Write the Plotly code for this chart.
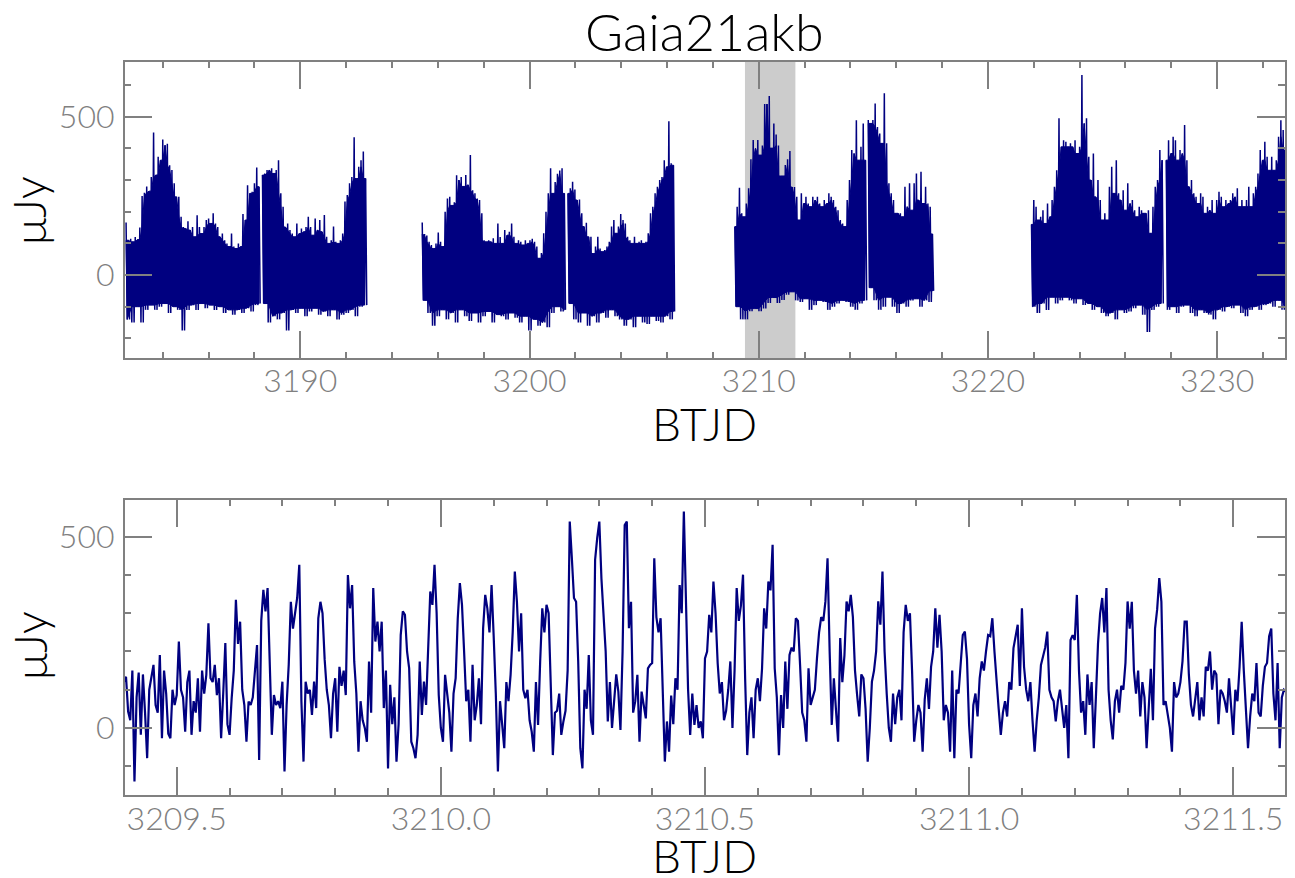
import plotly.graph_objects as go

TITLE = "Gaia21akb"
X_LABEL = "BTJD"
Y_LABEL = "μJy"

# ---- full light curve (top panel) -------------------------------------------
# each segment: start BTJD, upper-envelope flux every 0.1 d, lower-envelope flux every 0.2 d
ENV_STEP = 0.1

SEG_A_START = 3182.40
SEG_A_HIGH = [166, 110, 115, 105, 120, 112,
              150, 250, 260, 280, 265, 310, 450,
              316, 374, 363, 428, 410, 415, 347, 332, 290, 247, 247, 184, 152,
              147, 170, 142, 152, 121, 189, 152, 131, 152, 174,
              179, 163, 195, 163, 152, 121, 131, 110, 100, 90,
              131, 90, 84, 100, 90, 193, 174, 284, 258, 263,
              290, 340, 279]
SEG_A_LOW = [-140, -150, -100, -150, -110, -95, -110, -100, -90, -120,
             -100, -110, -175, -110, -95, -110, -90, -105, -95, -110,
             -100, -120, -110, -125, -110, -120, -105, -115, -95, -90]

SEG_B_START = 3188.35
SEG_B_HIGH = [316, 321, 332, 332, 337, 321, 332, 363, 258, 216,
              152, 163, 142, 131, 121, 163, 131, 147, 137, 152,
              184, 152, 126, 179, 142, 174, 137, 190, 121, 100,
              110, 153, 105, 100, 110, 131, 232, 253, 290, 310,
              435, 305, 342, 363, 390, 305]
SEG_B_LOW = [-90, -150, -130, -140, -120, -175, -110, -120, -105, -130,
             -115, -105, -125, -115, -130, -110, -140, -125, -120, -110,
             -130, -100, -95]

SEG_C_START = 3195.32
SEG_C_HIGH = [166, 130, 125, 105, 95, 84, 100, 134, 105, 90,
              200, 242, 247, 220, 230, 315, 300, 310, 280, 316,
              285, 379, 268, 258, 242, 237, 195, 110, 105, 110,
              105, 116, 100, 163, 120, 100, 142, 126, 137, 163,
              121, 100, 110, 105, 95, 110, 100, 110, 115, 105,
              90, 53, 70, 132, 200, 258, 337, 258, 294, 320,
              330, 337, 258]
SEG_C_LOW = [-80, -120, -160, -130, -110, -140, -120, -150, -110, -130,
             -145, -120, -150, -130, -115, -150, -125, -130, -140, -120,
             -135, -150, -130, -175, -140, -160, -150, -165, -120, -100,
             -115, -110]

SEG_D_START = 3201.68
SEG_D_HIGH = [258, 274, 295, 270, 237, 239, 195, 153, 165, 121,
              121, 68, 90, 121, 84, 74, 79, 90, 105, 153,
              174, 132, 153, 193, 174, 163, 121, 110, 100, 121,
              100, 105, 110, 100, 105, 132, 195, 216, 258, 279,
              300, 310, 363, 342, 486, 353, 347]
SEG_D_LOW = [-90, -140, -150, -120, -160, -130, -150, -120, -135, -110,
             -130, -140, -160, -140, -165, -130, -150, -155, -130, -145,
             -150, -130, -140, -115]

SEG_E_START = 3208.96
SEG_E_HIGH = [153, 216, 276, 195, 184,
              226, 274, 366, 427, 400, 427, 379, 409, 540, 540,
              566, 401, 479, 444, 409, 313, 313, 348, 366, 392,
              278, 278, 247, 174, 258,
              226, 247, 226, 216, 247, 237, 247, 226, 216, 237,
              226, 258, 247, 237, 216, 205, 174, 163, 153, 237,
              300, 395, 384, 489, 363, 405, 479, 363]
SEG_E_LOW = [-100, -140, -140, -114, -106, -114, -106, -88, -71, -88,
             -79, -62, -53, -80, -85, -75, -110, -95, -80, -85,
             -110, -100, -90, -80, -85, -100, -110, -90, -80]

SEG_F_START = 3214.78
SEG_F_HIGH = [490, 479, 490, 542, 468, 447, 416, 574, 416, 290,
              258, 237, 195, 195, 195, 184, 279, 216, 290, 205,
              290, 321, 237, 326, 226, 279, 226, 216, 130]
SEG_F_LOW = [-40, -80, -110, -100, -70, -100, -120, -90, -100, -80,
             -75, -100, -80, -85, -50]

SEG_G_START = 3221.90
SEG_G_HIGH = [160, 237, 216, 174, 184, 205, 163, 226, 184, 237,
              279, 331, 495, 405, 426, 421, 405, 416, 405, 426,
              384, 405, 632, 479, 495, 374, 300, 384, 247, 300,
              237, 174, 195, 174, 279, 342, 258, 363, 258, 237,
              268, 205, 290, 226, 237, 205, 184, 216, 205, 195,
              195, 205, 132, 216, 279, 300, 395, 363]
SEG_G_LOW = [-100, -120, -90, -110, -70, -90, -80, -70, -80, -90,
             -75, -95, -90, -110, -100, -120, -130, -120, -140, -110,
             -120, -115, -105, -95, -125, -180, -110, -100, -90]

SEG_H_START = 3227.78
SEG_H_HIGH = [363, 426, 384, 437, 426, 363, 395, 384, 474, 363,
              279, 300, 258, 247, 226, 258, 247, 195, 216, 205,
              237, 195, 237, 263, 247, 216, 237, 226, 237, 258,
              247, 274, 216, 237, 216, 237, 279, 216, 258, 279,
              321, 395, 363, 421, 374, 331, 374, 331, 363, 437,
              489, 458, 395]
SEG_H_LOW = [-110, -100, -120, -100, -95, -120, -130, -110, -120, -125,
             -140, -110, -115, -100, -105, -95, -120, -130, -110, -100,
             -110, -95, -90, -100, -80, -110, -220]

# ---- zoomed light curve (bottom panel) --------------------------------------
ZOOM_START = 3209.40
ZOOM_CADENCE = 0.004
ZOOM_FLUX = [
    120, 134, 43, 20, 150, -140, 80, 145, -18, 140,
    40, -79, 100, 130, 165, 60, 40, 191, -27, 150,
    90, -15, -27, 100, 60, 86, 226, 100, 80, -10,
    120, 150, -18, 70, 40, 130, -10, 150, 90, 139,
    274, 130, 120, 165, 86, 130, -27, 90, 222, 10,
    -18, 78, 150, 335, 220, 278, 100, 60, -36, 69,
    60, 80, 150, 217, -84, 280, 361, 305, 366, 200,
    -18, 86, 60, 70, 52, 121, -114, 60, 165, 330,
    260, 300, 340, 427, 70, -88, 121, 90, 100, 34,
    121, 52, 287,
    330, 300, 180, 100, 60, -27, 90, 130, -10, 160,
    110, 150, 86, 400, 313, 374, 174, 90, -62, 70,
    20, 0, -36, 174, 40, 366, 226, 278, 200, 278,
    52, 150, -106, 113, 10, 80, -88, 10, 243, 305,
    296, 200, 156, -36, -53, -79, -18, 174, 34, 121,
    60, 191, 357, 322, 427, 300, 86, 0, -36, 139,
    90, 40, -62, 90, 130, 287, 379, 322, 200, 70,
    100, -36, 165, 20, 60, 130, 10, 261, 348, 313,
    250, 374, 240, 90, -114, 70, 10, -53, 120, 70,
    139, 250, 409,
    330, 200, 300, 100, 78, 100, 20, -10, -62, 120,
    8, 174, 313, 250, 322, 300, 140, -71, 40, 45,
    90, -18, 17, 45, 150, 540, 444, 340, 330, 174,
    -53, -106, 100, 50, 191, 20, -18, 440, 497, 540,
    390, 305, 200, 17, 120, 0, 60, 140, 95, -5,
    200, 531, 540, 261, 330, 40, 70, 139, -36, 95,
    60, 25, 156, 165, 170, 444, 290, 250, 287, 100,
    -88, 17, -62, 85, 10, 130, 100, 374, 300, 566,
    300, 100, -18, 90, 8, 60, 0, 17, -27, 182,
    200, 296,
    250, 383, 300, 170, 90, 120, 20, 45, 100, 174,
    0, 150, 366, 280, 320, 401, 130, -71, 40, 80,
    -27, 100, 130, 70, 155, 313, 260, 383, 360, 479,
    156, 80, -71, 86, 0, 174, 50, 191, 210, 200,
    287, 280, 165, 40, 20, -36, 156, 60, 80, 100,
    182, 250, 290, 280, 331, 444, 200, 8, 130, 40,
    -36, 235, 120, 190, 331, 305, 348, 290, 150, 86,
    30, 140, 130, 50, -88, 0, 121, 150, 200, 331,
    270, 409, 200, 90, 0, -36, 90, 10, 80, 100,
    20, 250,
    322, 280, 300, 150, -36, 20, 60, 40, -62, 75,
    130, 50, 160, 200, 313, 210, 296, 200, 20, 60,
    40, -62, 150, -79, 100, 90, 180, 243, 252, 180,
    8, -79, 60, 90, 30, 130, 174, 150, 200, 243,
    240, 287, 200, 110, 50, -18, 40, 70, 30, 120,
    100, 209, 243, 270, 110, 313, 160, 100, 70, 120,
    20, -62, 20, 80, 165, 191, 210, 252, 100, 80,
    70, 17, 70, 100, 45, 0, 60, -79, 230, 243,
    230, 348, 150, 40, 70, -18, 140, 60, 120, -53,
    80, 220,
    300, 340, 250, 366, 100, 20, -30, 70, 100, 40,
    110, 100, 170, 331, 260, 330, 150, 90, 150, 30,
    120, 80, -53, 40, 155, 20, 260, 310, 392, 330,
    60, 70, 40, 0, -62, 120, 80, 90, 120, 175,
    278, 278, 140, 60, 30, 70, 120, 20, 80, 30,
    160, 150, 200, 100, 150, 140, 10, 100, 90, 70,
    40, 130, 60, -18, 100, 70, 160, 278, 150, 50,
    -53, 30, 90, 70, 170, 40, 30, 110, 160, 170,
    240, 260, 90, 20, 170, -53, 80, 100, 95,
]
SHADE = [3209.40, 3211.60]

TOP_XRANGE = [3182.34, 3232.96]
TOP_YRANGE = [-263, 674]
BOT_XRANGE = [3209.4015, 3211.598]
BOT_YRANGE = [-175.4, 597.6]

# ---- build traces ------------------------------------------------------------
segments = [
    (SEG_A_START, SEG_A_HIGH, SEG_A_LOW),
    (SEG_B_START, SEG_B_HIGH, SEG_B_LOW),
    (SEG_C_START, SEG_C_HIGH, SEG_C_LOW),
    (SEG_D_START, SEG_D_HIGH, SEG_D_LOW),
    (SEG_E_START, SEG_E_HIGH, SEG_E_LOW),
    (SEG_F_START, SEG_F_HIGH, SEG_F_LOW),
    (SEG_G_START, SEG_G_HIGH, SEG_G_LOW),
    (SEG_H_START, SEG_H_HIGH, SEG_H_LOW),
]
NAVY = "#000080"
GRAY = "#808080"
FONT = "Lato"

# solid core of the band (between neighbouring envelope values) + zigzag spikes
band_x, band_y = [], []
zig_x, zig_y = [], []
for start, high, low in segments:
    n, m = len(high), len(low)
    hx = [start + i * ENV_STEP for i in range(n)]
    lx = [start + 2 * j * ENV_STEP + ENV_STEP / 2 for j in range(m)]
    lx[-1] = min(lx[-1], hx[-1])
    core_hi = [min(high[max(i - 1, 0):i + 2]) for i in range(n)]
    core_lo = [max(low[max(j - 1, 0):j + 2]) for j in range(m)]
    band_x += hx + lx[::-1] + [hx[0], None]
    band_y += core_hi + core_lo[::-1] + [core_hi[0], None]
    for i, h in enumerate(high):
        zig_x += [hx[i], hx[i] + ENV_STEP / 2]
        zig_y += [h, low[i // 2]]
    zig_x.append(None)
    zig_y.append(None)

fig = go.Figure()
fig.add_trace(go.Scatter(x=band_x, y=band_y, mode="lines", fill="toself",
                         fillcolor=NAVY, line=dict(color=NAVY, width=1),
                         hoverinfo="skip", xaxis="x", yaxis="y", showlegend=False))
fig.add_trace(go.Scatter(x=zig_x, y=zig_y, mode="lines",
                         line=dict(color=NAVY, width=1.5),
                         connectgaps=False, hoverinfo="skip",
                         xaxis="x", yaxis="y", showlegend=False))

zoom_x = [ZOOM_START + i * ZOOM_CADENCE for i in range(len(ZOOM_FLUX))]
fig.add_trace(go.Scatter(x=zoom_x, y=ZOOM_FLUX, mode="lines",
                         line=dict(color=NAVY, width=2.2),
                         xaxis="x2", yaxis="y2", showlegend=False))

tickfont = dict(family=FONT, size=32, color=GRAY, weight=300)


def axis_style(dtick, minor_dtick, rng, domain, anchor, tick0=0, fmt=None, standoff=0):
    d = dict(
        domain=domain, range=rng, anchor=anchor,
        showline=True, linecolor=GRAY, linewidth=1.5, mirror="allticks",
        ticks="inside", ticklen=28, tickwidth=1.5, tickcolor=GRAY,
        tickmode="linear", tick0=tick0, dtick=dtick,
        minor=dict(ticks="inside", ticklen=7, tickwidth=1.5, tickcolor=GRAY,
                   dtick=minor_dtick, tick0=tick0, showgrid=False),
        showgrid=False, zeroline=False, tickfont=tickfont,
        ticklabelstandoff=standoff,
    )
    if fmt:
        d["tickformat"] = fmt
    return d


W, H = 1295, 878
XDOM = [124.7 / W, 1285 / W]
TOP_YDOM = [1 - 358.3 / H, 1 - 61.7 / H]
BOT_YDOM = [1 - 795 / H, 1 - 499.5 / H]

fig.update_layout(
    width=W, height=H, autosize=False,
    margin=dict(l=0, r=0, t=0, b=0),
    paper_bgcolor="white", plot_bgcolor="white",
    xaxis=axis_style(10, 2, TOP_XRANGE, XDOM, "y", standoff=-6),
    yaxis=axis_style(500, 100, TOP_YRANGE, TOP_YDOM, "x", standoff=2),
    xaxis2=axis_style(0.5, 0.1, BOT_XRANGE, XDOM, "y2", fmt=".1f", standoff=-5),
    yaxis2=axis_style(500, 100, BOT_YRANGE, BOT_YDOM, "x2", standoff=2),
    shapes=[dict(type="rect", xref="x", yref="y domain",
                 x0=SHADE[0], x1=SHADE[1], y0=0, y1=1,
                 fillcolor="#cccccc", line=dict(width=0), layer="below")],
)

labfont = dict(family=FONT, size=46, color="black", weight=300)
xc = (XDOM[0] + XDOM[1]) / 2
fig.add_annotation(text=TITLE, x=xc, y=1 - 31 / H, xref="paper", yref="paper",
                   showarrow=False, xanchor="center", yanchor="middle",
                   font=dict(family=FONT, size=52, color="black", weight=300))
fig.add_annotation(text=X_LABEL, x=xc, y=1 - 424 / H, xref="paper", yref="paper",
                   showarrow=False, xanchor="center", yanchor="middle", font=labfont)
fig.add_annotation(text=X_LABEL, x=xc, y=1 - 855 / H, xref="paper", yref="paper",
                   showarrow=False, xanchor="center", yanchor="middle", font=labfont)
fig.add_annotation(text=Y_LABEL, x=29 / W, y=1 - 210 / H, xref="paper", yref="paper",
                   showarrow=False, xanchor="center", yanchor="middle",
                   textangle=-90, font=labfont)
fig.add_annotation(text=Y_LABEL, x=29 / W, y=1 - 645 / H, xref="paper", yref="paper",
                   showarrow=False, xanchor="center", yanchor="middle",
                   textangle=-90, font=labfont)

fig.write_html("out.html")
